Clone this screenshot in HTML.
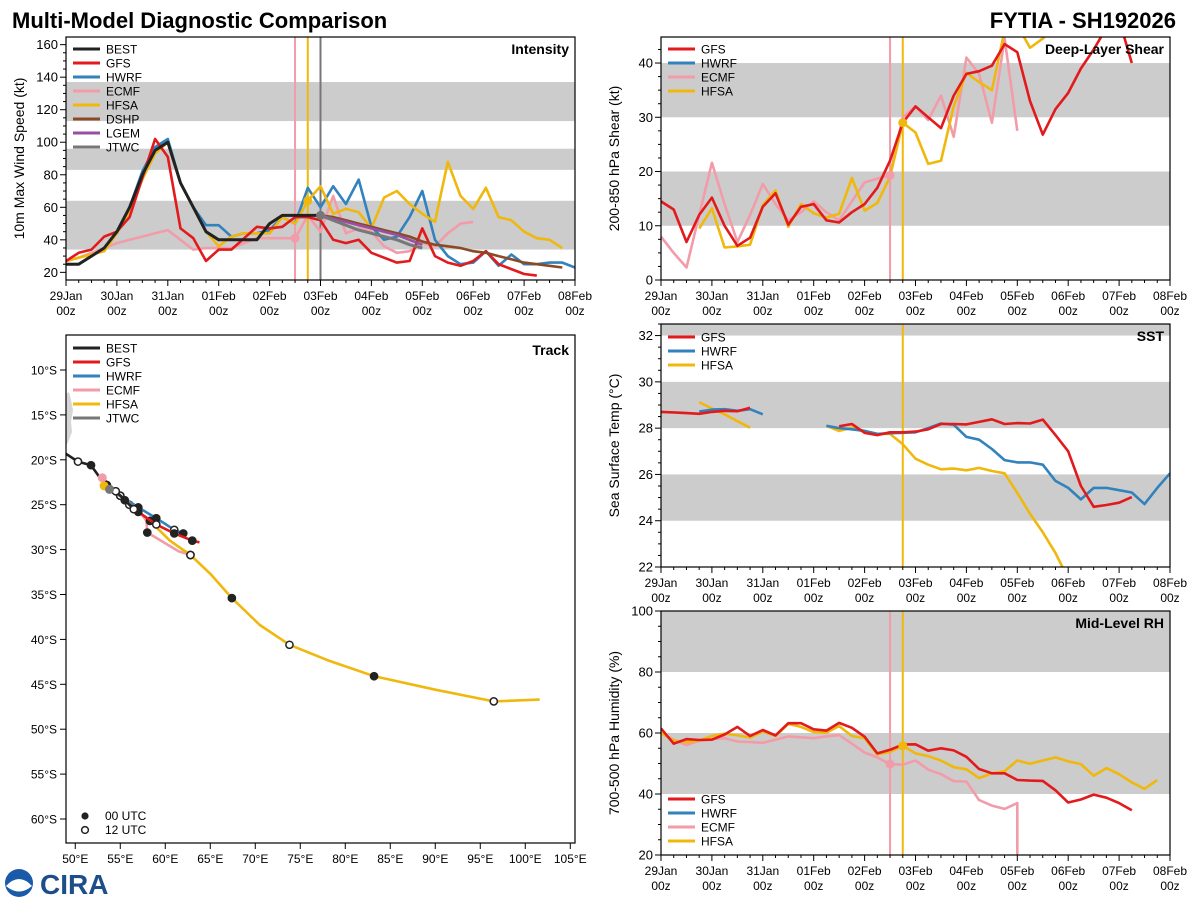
<!DOCTYPE html>
<html><head><meta charset="utf-8">
<style>
html,body{margin:0;padding:0;background:#fff;}
svg{display:block;font-family:"Liberation Sans","DejaVu Sans",sans-serif;}
</style></head>
<body>
<svg id="c" width="1200" height="900" viewBox="0 0 1200 900" xmlns="http://www.w3.org/2000/svg">
<text x="12" y="28" font-size="22" font-weight="bold" fill="#000">Multi-Model Diagnostic Comparison</text>
<text x="1176" y="28" font-size="22" font-weight="bold" fill="#000" text-anchor="end">FYTIA - SH192026</text>
<g>
<circle cx="19" cy="883" r="14" fill="#1a5aa8"/>
<path d="M6,886 Q19,872 32,886 Q19,897 6,886 Z" fill="#fff"/>
<text x="40" y="894" font-size="28" font-weight="bold" fill="#1d4e8a">CIRA</text>
</g>
</svg>
<script>
// ---------- data (6-hourly index from 29Jan 00z; 40 = 08Feb 00z) ----------
const dayLabels = ["29Jan","30Jan","31Jan","01Feb","02Feb","03Feb","04Feb","05Feb","06Feb","07Feb","08Feb"];
// Intensity (kt)
const intBest = [25,25,30,35,45,60,80,95,100,75,60,45,40,40,40,40,50,55,55,55,55];
const intGfs = [27,32,34,42,45,54,78,102,91,47,41,27,34,34,41,48,47,48,54,54,52,40,38,40,32,29,26,27,47,30,26,24,27,33,25,22,19,18];
const intHwrf = [25,25,30,35,44,60,82,97,102,75,60,49,49,42,44,44,46,54,50,72,60,73,62,77,48,40,42,54,70,40,30,25,26,33,24,31,25,25,26,26,23];
const intEcmf = [27,29,32,35,38,40,42,44,46,40,34,35,35,35,38,41,41,41,41,55,45,67,44,47,45,36,32,33,38,36,44,50,51];
const intHfsa = [27,29,31,33,44,58,77,93,100,75,60,45,36,42,44,44,44,54,50,64,73,56,59,57,47,66,70,62,56,51,88,67,59,72,54,52,45,41,40,35];
const intDshp = [null,null,null,null,null,null,null,null,null,null,null,null,null,null,null,null,null,null,null,null,55,54,52,50,48,46,44,42,39,37,36,35,33,32,30,28,26,25,24,23];
const intLgem = [null,null,null,null,null,null,null,null,null,null,null,null,null,null,null,null,null,null,null,null,55,53,51,49,47,45,43,40,37];
const intJtwc = [null,null,null,null,null,null,null,null,null,null,null,null,null,null,null,null,null,null,null,null,55,52,49,46,44,42,40,37,35];
// Shear (kt)
const shGfs = [14.5,13,7,12,15.2,10,6.3,7.8,13.5,16,10.2,13.5,14,11,10.6,12.5,14,17,22,29,32,30,28,34,38,38.5,39.5,43.5,42,33,26.8,31.5,34.5,39,42.5,46.5,48,40];
const shEcmf = [8,5,2.3,12,21.6,14,7,12,17.7,14,11,12.5,14.5,12.5,11,14.5,18,18.7,19.3,30,32,29.5,34,26.4,41,38,29,44.5,27.5];
const shHfsa = [null,null,null,9.5,13.2,6,6.2,6.5,13.8,16.5,9.8,14,12.3,11.5,12.2,18.8,12.8,14.2,19,29,27.2,21.4,22,32,38.2,36.5,35,46,47,42.8,44.5,47];
// SST (C)
const sstGfs = [28.7,28.68,28.65,28.62,28.7,28.75,28.73,28.88,null,null,null,null,null,null,28.08,28.18,27.8,27.7,27.82,27.82,27.85,27.95,28.18,28.18,28.16,28.27,28.38,28.18,28.22,28.2,28.37,27.7,27.0,25.5,24.6,24.68,24.78,25.02];
const sstHwrf = [null,null,null,28.72,28.8,28.82,28.75,28.82,28.6,null,null,null,null,28.1,28.0,27.95,27.88,27.75,27.78,27.8,27.82,28.0,28.2,28.15,27.62,27.5,27.1,26.62,26.52,26.52,26.42,25.72,25.42,24.92,25.42,25.42,25.32,25.22,24.72,25.42,26.05];
const sstHfsa = [null,null,null,29.12,28.85,28.6,28.3,28.02,null,null,null,null,null,28.1,27.88,28.02,27.88,27.75,27.75,27.3,26.68,26.42,26.22,26.25,26.18,26.28,26.15,26.05,25.2,24.3,23.5,22.6,21.5];
// Mid-level RH (%)
const rhGfs = [61.5,56.5,58,57.7,57.8,59.5,62,59,61,59.2,63.2,63.2,61.2,60.8,63.3,61.7,58.8,53.3,54.5,56.2,56.3,54.2,55,54.3,52.2,48.2,46.8,46.8,44.6,44.4,44.3,41.2,37.2,38.2,39.8,38.8,37,34.7];
const rhEcmf = [60,57.8,56,57.5,58,58.3,57.2,57,56.8,57.8,58.9,58.6,58.3,58.9,59.3,56.5,53.6,52,49.8,49.6,51,48,46.5,44.2,44.1,38,36.2,35.1,37];
const rhEcmfDrop = 0;
const rhHfsa = [60,57.5,57,57.5,59,59.8,59.2,58.5,60.5,59,63,62,60.3,60.1,62.3,59,58.3,53,53.8,55.8,53.3,52.4,51,48.8,48.1,45.2,46.8,47.5,51,49.9,51,52,50.7,49.8,46,48.5,46.5,43.8,41.7,44.6];
// Track (lon E, lat negative = S); marker: f = 00 UTC, o = 12 UTC, "" = none
const trBestLon = [48.9,50.3,51.75,52.6,53.5,54.5,55.5,56.5];
const trBestLat = [-19.3,-20.2,-20.6,-21.8,-22.8,-23.5,-24.5,-25.5];
const trBestMk = ["","o","f","","f","o","f","o"];
const trGfsLon = [53,55,57,59,61,63,63.8];
const trGfsLat = [-22,-24,-25.8,-27.2,-28.2,-29,-29.2];
const trGfsMk = ["","o","f","o","f","f",""];
const trHwrfLon = [53.2,55,57,59,61,62];
const trHwrfLat = [-22.8,-24,-25.3,-26.5,-27.8,-28.2];
const trHwrfMk = ["","o","f","f","o","f"];
const trEcmfLon = [53,55,57,57.9,58,61.5,62.8];
const trEcmfLat = [-22,-24,-25.5,-26.8,-28.1,-30.2,-30.6];
const trEcmfMk = ["","f","o","","f","","o"];
const trHfsaLon = [53.2,56,58.3,60.5,62.8,65,67.4,70.5,73.8,78,83.2,90,96.5,101.6];
const trHfsaLat = [-22.9,-25,-26.8,-29,-30.6,-32.7,-35.4,-38.4,-40.6,-42.3,-44.1,-45.6,-46.9,-46.7];
const trHfsaMk = ["","o","f","","o","","f","","o","","f","","o",""];
const trJtwcLon = [53.8,55,56.2];
const trJtwcLat = [-23.3,-24,-25];
const latTicks = [10,15,20,25,30,35,40,45,50,55,60];
const lonTicks = [50,55,60,65,70,75,80,85,90,95,100,105];

// ---------- drawing ----------
const NS = "http://www.w3.org/2000/svg";
const svg = document.getElementById("c");
const COL = {BEST:"#222222",GFS:"#e31a1c",HWRF:"#3182bd",ECMF:"#f29ca9",HFSA:"#f0b80c",DSHP:"#8b4a26",LGEM:"#984ea3",JTWC:"#777777"};
function mk(tag, attrs, parent){
  const e = document.createElementNS(NS, tag);
  for (const k in attrs) e.setAttribute(k, attrs[k]);
  (parent||svg).appendChild(e);
  return e;
}
let clipN = 0;
function panel(p){
  const g = mk("g", {});
  
  
  const X = i => p.x0 + i*(p.x1-p.x0)/40;
  const Y = v => p.y1 - (v-p.ymin)*(p.y1-p.y0)/(p.ymax-p.ymin);
  const cid = "clip"+(clipN++);
  const cp = mk("clipPath", {id:cid}, g);
  mk("rect", {x:p.x0,y:p.y0,width:p.x1-p.x0,height:p.y1-p.y0}, cp);
  const inner = mk("g", {"clip-path":"url(#"+cid+")"}, g);
  p.bands.forEach(b=>{
    const r = mk("rect", {x:p.x0,y:Y(b[1]),width:p.x1-p.x0,height:Y(b[0])-Y(b[1]),fill:"#cccccc"}, inner);
    
    
  });
  p.vlines.forEach(v=>{
    const l = mk("line", {x1:X(v[0]),x2:X(v[0]),y1:p.y0,y2:p.y1,stroke:v[1],"stroke-width":v[2]||2}, inner);
    
    
  });
  p.series.forEach(s=>{
    let d = "", pen = false;
    s.data.forEach((v,i)=>{
      if (v===null||v===undefined){pen=false;return;}
      d += (pen?"L":"M")+X(i).toFixed(1)+","+Y(v).toFixed(1);
      pen = true;
    });
    if (s.drop!==undefined){ d += "L"+X(s.data.length-1).toFixed(1)+","+Y(s.drop).toFixed(1); }
    const path = mk("path", {d:d,fill:"none",stroke:COL[s.k],"stroke-width":s.w||2.6,"stroke-linejoin":"round"}, inner);
    
    
  });
  (p.dots||[]).forEach(dt=>{
    const c = mk("circle", {cx:X(dt[0]),cy:Y(dt[1]),r:4.5,fill:COL[dt[2]]}, inner);
    
    
  });
  const fr = mk("rect", {x:p.x0,y:p.y0,width:p.x1-p.x0,height:p.y1-p.y0,fill:"none",stroke:"#000","stroke-width":1.2}, g);
  
  
  for (let i=0;i<=40;i++){
    const major = i%4===0;
    mk("line", {x1:X(i),x2:X(i),y1:p.y1,y2:p.y1+(major?6:3),stroke:"#000","stroke-width":1}, g);
    if (major){
      const t = mk("text", {x:X(i),y:p.y1+20,"font-size":12,"text-anchor":"middle",fill:"#000"}, g);
      
      
      t.textContent = dayLabels[i/4];
      const t2 = mk("text", {x:X(i),y:p.y1+35,"font-size":12,"text-anchor":"middle",fill:"#000"}, g);
      
      
      t2.textContent = "00z";
    }
  }
  for (let v=p.minorStart; v<=p.ymax+1e-6; v+=p.minor){
    if (v<p.ymin-1e-6) continue;
    const isMaj = Math.abs(((v-p.majStart)/p.major)-Math.round((v-p.majStart)/p.major))<1e-6;
    mk("line", {x1:p.x0,x2:p.x0-(isMaj?6:3),y1:Y(v),y2:Y(v),stroke:"#000","stroke-width":1}, g);
    if (isMaj){
      const t = mk("text", {x:p.x0-8,y:Y(v)+4.5,"font-size":13,"text-anchor":"end",fill:"#000"}, g);
      
      
      t.textContent = Math.round(v);
    }
  }
  const yt = mk("text", {x:0,y:0,"font-size":14,"text-anchor":"middle",fill:"#000",transform:"translate("+(p.x0-42)+","+((p.y0+p.y1)/2)+") rotate(-90)"}, g);
  
  
  yt.textContent = p.ytitle;
  const tt = mk("text", {x:p.x1-6,y:p.y0+17,"font-size":14,"font-weight":"bold","text-anchor":"end",fill:"#000"}, g);
  
  
  tt.textContent = p.title;
  legend(g, p.x0+7, p.legY, p.legend);
}
function legend(g, x, y, keys){
  const lg = mk("g", {}, g);
  
  
  keys.forEach((k,i)=>{
    const yy = y + i*14;
    const l = mk("line", {x1:x,x2:x+27,y1:yy,y2:yy,stroke:COL[k],"stroke-width":3}, lg);
    
    
    const t = mk("text", {x:x+33,y:yy+4.5,"font-size":12,fill:"#000"}, lg);
    
    
    t.textContent = k;
  });
}

panel({name:"intensity-panel",x0:66,x1:575,y0:37,y1:280,ymin:15.3,ymax:164.7,
  bands:[[34,64],[83,96],[113,137]],
  vlines:[[18,COL.ECMF],[19,COL.HFSA],[20,COL.JTWC]],
  series:[{k:"ECMF",data:intEcmf},{k:"HWRF",data:intHwrf},{k:"HFSA",data:intHfsa},{k:"GFS",data:intGfs},{k:"BEST",data:intBest,w:3},{k:"DSHP",data:intDshp},{k:"LGEM",data:intLgem},{k:"JTWC",data:intJtwc,w:3}],
  dots:[[18,41,"ECMF"],[19,64,"HFSA"],[20,55,"JTWC"]],
  majStart:20,major:20,minorStart:20,minor:5,
  ytitle:"10m Max Wind Speed (kt)",title:"Intensity",legY:49,
  legend:["BEST","GFS","HWRF","ECMF","HFSA","DSHP","LGEM","JTWC"]});
panel({name:"shear-panel",x0:661,x1:1170,y0:37,y1:280,ymin:0,ymax:44.8,
  bands:[[10,20],[30,40]],
  vlines:[[18,COL.ECMF],[19,COL.HFSA]],
  series:[{k:"ECMF",data:shEcmf},{k:"HFSA",data:shHfsa},{k:"GFS",data:shGfs}],
  dots:[[18,19.3,"ECMF"],[19,29,"HFSA"]],
  majStart:0,major:10,minorStart:0,minor:2.5,
  ytitle:"200-850 hPa Shear (kt)",title:"Deep-Layer Shear",legY:49,
  legend:["GFS","HWRF","ECMF","HFSA"]});
panel({name:"sst-panel",x0:661,x1:1170,y0:324,y1:567,ymin:22,ymax:32.5,
  bands:[[24,26],[28,30],[32,34]],
  vlines:[[19,COL.HFSA]],
  series:[{k:"HFSA",data:sstHfsa},{k:"HWRF",data:sstHwrf},{k:"GFS",data:sstGfs}],
  dots:[],
  majStart:22,major:2,minorStart:22,minor:0.5,
  ytitle:"Sea Surface Temp (°C)",title:"SST",legY:337,
  legend:["GFS","HWRF","HFSA"]});
panel({name:"rh-panel",x0:661,x1:1170,y0:611,y1:855,ymin:20,ymax:100,
  bands:[[40,60],[80,100]],
  vlines:[[18,COL.ECMF],[19,COL.HFSA]],
  series:[{k:"ECMF",data:rhEcmf,drop:rhEcmfDrop},{k:"HFSA",data:rhHfsa},{k:"GFS",data:rhGfs}],
  dots:[[18,49.8,"ECMF"],[19,55.8,"HFSA"]],
  majStart:20,major:20,minorStart:20,minor:5,
  ytitle:"700-500 hPa Humidity (%)",title:"Mid-Level RH",legY:799,
  legend:["GFS","HWRF","ECMF","HFSA"]});

// ---------- track panel ----------
(function(){
  const x0=66,x1=575,y0=335,y1=843;
  const LX = lon => x0 + (lon-48.97)*9;
  const LY = lat => 370 + (-lat-10)*8.98;
  const g = mk("g", {});
  
  
  const cp = mk("clipPath", {id:"trclip"}, g);
  mk("rect", {x:x0,y:y0,width:x1-x0,height:y1-y0}, cp);
  const inner = mk("g", {"clip-path":"url(#trclip)"}, g);
  const land = mk("path", {d:"M66,394 L69,392 L71,400 L73,410 L71,422 L72,432 L69,440 L66,446 Z",fill:"#d6d6d6"}, inner);
  
  
  function track(k, lons, lats, mks, w){
    const d = lons.map((v,i)=>(i?"L":"M")+LX(v).toFixed(1)+","+LY(lats[i]).toFixed(1)).join("");
    const p = mk("path", {d:d,fill:"none",stroke:COL[k],"stroke-width":w||2.6,"stroke-linejoin":"round"}, inner);
    
    
    (mks||[]).forEach((m,i)=>{
      if (!m) return;
      const filled = m==="f";
      const c = mk("circle", {cx:LX(lons[i]),cy:LY(lats[i]),r:3.6,fill:filled?"#222":"#fff",stroke:"#222","stroke-width":1.5}, inner);
      
      
    });
  }
  track("ECMF", trEcmfLon, trEcmfLat, trEcmfMk);
  track("HFSA", trHfsaLon, trHfsaLat, trHfsaMk);
  track("HWRF", trHwrfLon, trHwrfLat, trHwrfMk);
  track("GFS", trGfsLon, trGfsLat, trGfsMk);
  track("JTWC", trJtwcLon, trJtwcLat, null, 3);
  track("BEST", trBestLon, trBestLat, trBestMk);
  [["ECMF",trEcmfLon,trEcmfLat],["HFSA",trHfsaLon,trHfsaLat],["JTWC",trJtwcLon,trJtwcLat]].forEach(a=>{
    const c = mk("circle", {cx:LX(a[1][0]),cy:LY(a[2][0]),r:4.5,fill:COL[a[0]]}, inner);
    
    
  });
  const fr = mk("rect", {x:x0,y:y0,width:x1-x0,height:y1-y0,fill:"none",stroke:"#000","stroke-width":1.2}, g);
  
  
  latTicks.forEach(lat=>{
    const y = LY(-lat);
    mk("line", {x1:x0,x2:x0-6,y1:y,y2:y,stroke:"#000"}, g);
    const t = mk("text", {x:x0-9,y:y+4.5,"font-size":12,"text-anchor":"end",fill:"#000"}, g);
    
    
    t.textContent = lat+"°S";
  });
  lonTicks.forEach(lon=>{
    const x = LX(lon);
    mk("line", {x1:x,x2:x,y1:y1,y2:y1+6,stroke:"#000"}, g);
    const t = mk("text", {x:x,y:y1+20,"font-size":12,"text-anchor":"middle",fill:"#000"}, g);
    
    
    t.textContent = lon+"°E";
  });
  const tt = mk("text", {x:x1-6,y:y0+20,"font-size":14,"font-weight":"bold","text-anchor":"end",fill:"#000"}, g);
  
  
  tt.textContent = "Track";
  legend(g, x0+7, 348, ["BEST","GFS","HWRF","ECMF","HFSA","JTWC"]);
  const l1 = mk("circle", {cx:85,cy:816,r:3.6,fill:"#222"}, g);
  
  
  const t1 = mk("text", {x:105,y:820,"font-size":12,fill:"#000"}, g);
  
  
  t1.textContent = "00 UTC";
  const l2 = mk("circle", {cx:85,cy:830,r:3.4,fill:"#fff",stroke:"#222","stroke-width":1.5}, g);
  
  
  const t2 = mk("text", {x:105,y:834,"font-size":12,fill:"#000"}, g);
  
  
  t2.textContent = "12 UTC";
})();
</script>
</body></html>
